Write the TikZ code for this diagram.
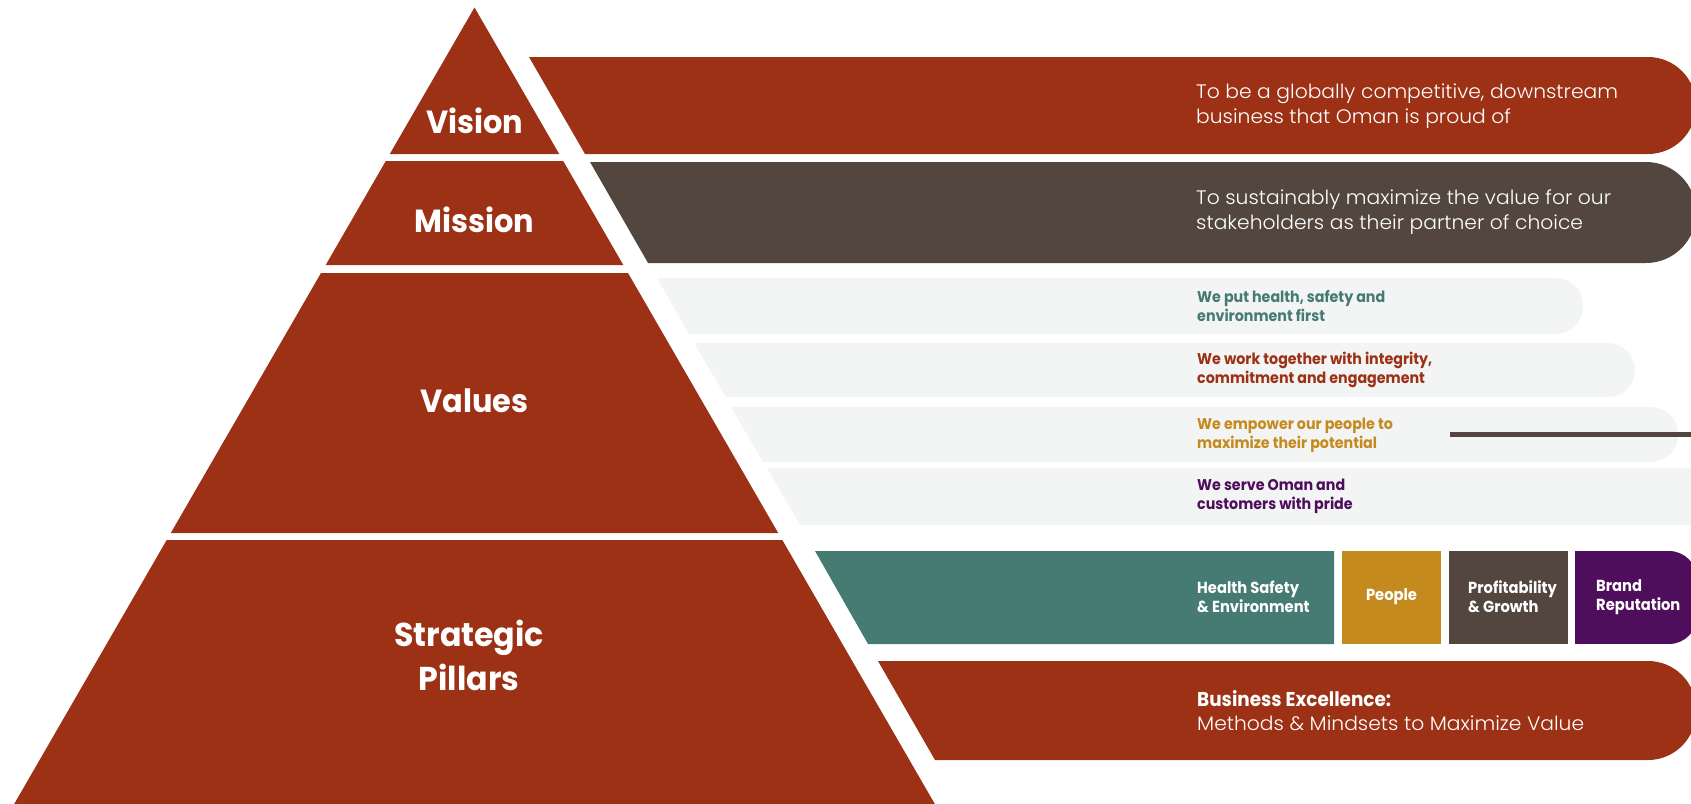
\documentclass[tikz,border=0pt]{standalone}
\usepackage{fontspec}
\setmainfont{Poppins}
\newfontfamily\lightfont[UprightFont={* Light},FakeStretch=1.04]{Poppins}
\newfontfamily\condfont[FakeStretch=0.92]{Poppins}
\newfontfamily\pyrfont[FakeStretch=0.95]{Poppins}
\newfontfamily\pyrcfont[FakeStretch=0.96]{Poppins}
\definecolor{cred}{RGB}{156,49,22}
\definecolor{cbrown}{RGB}{82,70,63}
\definecolor{cpale}{RGB}{243,245,245}
\definecolor{cteal}{RGB}{69,123,115}
\definecolor{cgold}{RGB}{196,138,30}
\definecolor{cpurple}{RGB}{79,14,92}
% colour, top, bottom, left x at top, left x at bottom, right end, radius
\newcommand\mybar[7]{%
  \fill[#1] (#4,#2) -- (#6-#7,#2) -- (#6-#7,#3) -- (#5,#3) -- cycle;
  \fill[#1, rounded corners=#7pt] (#6-2*#7,#2) rectangle (#6,#3);}
\tikzset{
  pyr/.style={text=white, font=\pyrfont\bfseries\fontsize{32}{45}\selectfont, align=center, inner sep=0pt},
  pyrc/.style={text=white, font=\pyrcfont\bfseries\fontsize{33}{44}\selectfont, align=center, inner sep=0pt},
  desc/.style={text=white, font=\lightfont\fontsize{19.5}{25}\selectfont, anchor=west, align=left, inner sep=0pt},
  val/.style={font=\condfont\bfseries\fontsize{15.5}{19}\selectfont, anchor=west, align=left, inner sep=0pt},
  pil/.style={text=white, font=\condfont\bfseries\fontsize{16}{19}\selectfont, align=left, inner sep=0pt}
}
\begin{document}
\begin{tikzpicture}[x=1pt,y=-1pt]
\useasboundingbox (0,0) rectangle (1691,803);
\clip (0,0) rectangle (1691,803);
% pyramid
\fill[cred] (474.5,7.5) -- (559.2,154) -- (389.8,154) -- cycle;
\fill[cred] (385.8,161) -- (563.2,161) -- (623.3,265) -- (325.7,265) -- cycle;
\fill[cred] (321,273) -- (628,273) -- (778.2,533) -- (170.8,533) -- cycle;
\fill[cred] (166.7,540) -- (782.3,540) -- (938.3,810) -- (10.7,810) -- cycle;
% bars
\mybar{cred}{57}{154}{529}{585}{1696}{48}
\mybar{cbrown}{162}{263}{590}{648}{1696}{50}
\mybar{cpale}{278}{334}{657}{689}{1583}{27}
\mybar{cpale}{343}{397}{694}{726}{1635}{27}
\mybar{cpale}{407}{462}{731}{763}{1678}{27}
\mybar{cpale}{468}{525}{767}{800}{1730}{27}
\fill[cteal] (815,551) -- (1334,551) -- (1334,644) -- (868,644) -- cycle;
\fill[cgold] (1342,551) rectangle (1441,644);
\fill[cbrown] (1449,551) rectangle (1568,644);
\mybar{cpurple}{551}{644}{1575}{1575}{1697}{28}
\mybar{cred}{661}{760}{878}{935}{1696}{48}
\fill[cbrown] (1450,432) rectangle (1691,437);
% pyramid labels
\node[pyr] (vision) at (474.5,121) {Vision};
\node[pyr] (mission) at (474.5,220) {Mission};
\node[pyr] (values) at (474.5,401) {Values};
\node[pyrc] (pillars) at (469,655) {Strategic\\Pillars};
% descriptions
\node[desc] (visiontxt) at (1196,106) {To be a globally competitive, downstream\\business that Oman is proud of};
\node[desc] (missiontxt) at (1196,212.5) {To sustainably maximize the value for our\\stakeholders as their partner of choice};
\node[val, text=cteal] (v1) at (1197,306) {We put health, safety and\\environment first};
\node[val, text=cred] (v2) at (1197,370) {We work together with integrity,\\commitment and engagement};
\node[val, text=cgold] (v3) at (1197,435) {We empower our people to\\maximize their potential};
\node[val, text=cpurple] (v4) at (1197,496.5) {We serve Oman and\\customers with pride};
\node[pil, anchor=west] (hse) at (1197,597) {Health Safety\\\& Environment};
\node[pil] (people) at (1391.5,597) {People};
\node[pil, anchor=west] (profit) at (1468,597) {Profitability\\\& Growth};
\node[pil, anchor=west] (brand) at (1596,597) {Brand\\Reputation};
\node[desc, font=\lightfont\fontsize{19.5}{24}\selectfont] (bex) at (1197,710.5) {{\condfont\bfseries\fontsize{20}{24}\selectfont Business Excellence:}\\Methods \& Mindsets to Maximize Value};
\end{tikzpicture}
\end{document}
